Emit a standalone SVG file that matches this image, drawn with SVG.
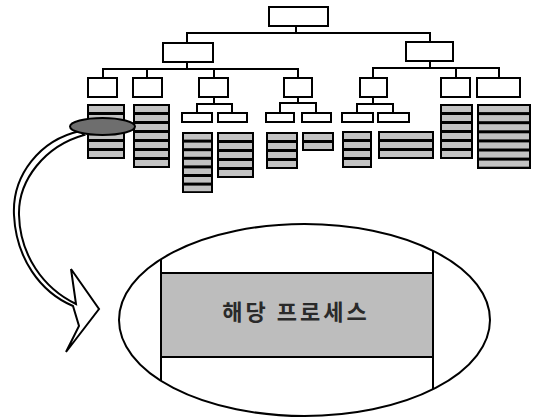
<svg xmlns="http://www.w3.org/2000/svg" width="534" height="419" viewBox="0 0 534 419">
<style>
.box{fill:#fff;stroke:#000;stroke-width:2}
.ln{fill:none;stroke:#000;stroke-width:2}
.col{fill:#000}
.row{fill:#c2c2c2}
.big{fill:#bdbdbd;stroke:#000;stroke-width:2}
.lbl{font-family:"Noto Sans CJK KR","Noto Sans",sans-serif;font-size:22px;font-weight:bold;fill:#2a2a2a}
</style>
<defs>
<clipPath id="ovalclip"><ellipse cx="304.5" cy="320" rx="185.5" ry="96"/></clipPath>
</defs>
<rect width="534" height="419" fill="#fff"/>
<g id="connectors">
<polyline class="ln" points="296,26 296,33"/>
<polyline class="ln" points="187,43 187,33 430,33 430,42"/>
<polyline class="ln" points="187,62 187,69"/>
<polyline class="ln" points="103,78 103,69 298,69 298,78"/>
<polyline class="ln" points="147,69 147,78"/>
<polyline class="ln" points="214,69 214,78"/>
<polyline class="ln" points="430,61 430,68"/>
<polyline class="ln" points="373,78 373,68 499,68 499,78"/>
<polyline class="ln" points="456,68 456,78"/>
<polyline class="ln" points="214,97 214,104"/>
<polyline class="ln" points="197,113 197,104 232,104 232,113"/>
<polyline class="ln" points="298,97 298,103"/>
<polyline class="ln" points="280,113 280,103 316,103 316,113"/>
<polyline class="ln" points="373,97 373,104"/>
<polyline class="ln" points="357,113 357,104 393,104 393,113"/>
</g>
<g id="n-root"><rect class="box" x="269" y="7" width="59" height="19"/></g>
<g id="n-l2a"><rect class="box" x="163" y="43" width="50" height="19"/></g>
<g id="n-l2b"><rect class="box" x="406" y="42" width="47" height="19"/></g>
<g id="n-l3a"><rect class="box" x="88" y="78" width="29" height="19"/></g>
<g id="n-l3b"><rect class="box" x="133" y="78" width="29" height="19"/></g>
<g id="n-l3c"><rect class="box" x="199" y="78" width="29" height="19"/></g>
<g id="n-l3d"><rect class="box" x="284" y="78" width="28" height="19"/></g>
<g id="n-l3e"><rect class="box" x="360" y="78" width="27" height="19"/></g>
<g id="n-l3f"><rect class="box" x="441" y="78" width="29" height="19"/></g>
<g id="n-l3g"><rect class="box" x="477" y="78" width="43" height="19"/></g>
<g id="n-l4a"><rect class="box" x="182" y="113" width="30" height="9"/></g>
<g id="n-l4b"><rect class="box" x="218" y="113" width="29" height="9"/></g>
<g id="n-l4c"><rect class="box" x="266" y="113" width="28" height="9"/></g>
<g id="n-l4d"><rect class="box" x="302" y="113" width="29" height="9"/></g>
<g id="n-l4e"><rect class="box" x="342" y="113" width="31" height="9"/></g>
<g id="n-l4f"><rect class="box" x="378" y="113" width="31" height="9"/></g>
<g id="leaf1">
<rect class="col" x="87" y="104" width="38" height="55"/>
<rect class="row" x="89" y="106" width="34" height="6"/><rect class="row" x="89" y="115" width="34" height="6"/><rect class="row" x="89" y="124" width="34" height="6"/><rect class="row" x="89" y="133" width="34" height="6"/><rect class="row" x="89" y="142" width="34" height="6"/><rect class="row" x="89" y="151" width="34" height="6"/>
</g>
<g id="leaf2">
<rect class="col" x="133" y="104" width="37" height="64"/>
<rect class="row" x="135" y="106" width="33" height="6"/><rect class="row" x="135" y="115" width="33" height="6"/><rect class="row" x="135" y="124" width="33" height="6"/><rect class="row" x="135" y="133" width="33" height="6"/><rect class="row" x="135" y="142" width="33" height="6"/><rect class="row" x="135" y="151" width="33" height="6"/><rect class="row" x="135" y="160" width="33" height="6"/>
</g>
<g id="leafA">
<rect class="col" x="182" y="132" width="31" height="61"/>
<rect class="row" x="184" y="134" width="27" height="5.6"/><rect class="row" x="184" y="142.6" width="27" height="5.6"/><rect class="row" x="184" y="151.2" width="27" height="5.6"/><rect class="row" x="184" y="159.8" width="27" height="5.6"/><rect class="row" x="184" y="168.4" width="27" height="5.6"/><rect class="row" x="184" y="177" width="27" height="5.6"/><rect class="row" x="184" y="185.6" width="27" height="5.6"/>
</g>
<g id="leafB">
<rect class="col" x="217" y="132" width="37" height="46"/>
<rect class="row" x="219" y="134" width="33" height="6"/><rect class="row" x="219" y="143" width="33" height="6"/><rect class="row" x="219" y="152" width="33" height="6"/><rect class="row" x="219" y="161" width="33" height="6"/><rect class="row" x="219" y="170" width="33" height="6"/>
</g>
<g id="leafC">
<rect class="col" x="266" y="132" width="32" height="37"/>
<rect class="row" x="268" y="134" width="28" height="6"/><rect class="row" x="268" y="143" width="28" height="6"/><rect class="row" x="268" y="152" width="28" height="6"/><rect class="row" x="268" y="161" width="28" height="6"/>
</g>
<g id="leafD">
<rect class="col" x="302" y="132" width="32" height="19"/>
<rect class="row" x="304" y="134" width="28" height="6"/><rect class="row" x="304" y="143" width="28" height="6"/>
</g>
<g id="leafE">
<rect class="col" x="342" y="131" width="30" height="37"/>
<rect class="row" x="344" y="133" width="26" height="6"/><rect class="row" x="344" y="142" width="26" height="6"/><rect class="row" x="344" y="151" width="26" height="6"/><rect class="row" x="344" y="160" width="26" height="6"/>
</g>
<g id="leafF">
<rect class="col" x="378" y="131" width="56" height="28"/>
<rect class="row" x="380" y="133" width="52" height="6"/><rect class="row" x="380" y="142" width="52" height="6"/><rect class="row" x="380" y="151" width="52" height="6"/>
</g>
<g id="leafG">
<rect class="col" x="440" y="104" width="33" height="55"/>
<rect class="row" x="442" y="106" width="29" height="6"/><rect class="row" x="442" y="115" width="29" height="6"/><rect class="row" x="442" y="124" width="29" height="6"/><rect class="row" x="442" y="133" width="29" height="6"/><rect class="row" x="442" y="142" width="29" height="6"/><rect class="row" x="442" y="151" width="29" height="6"/>
</g>
<g id="leafH">
<rect class="col" x="477" y="104" width="54" height="65"/>
<rect class="row" x="479" y="106" width="50" height="6.1"/><rect class="row" x="479" y="115.1" width="50" height="6.1"/><rect class="row" x="479" y="124.2" width="50" height="6.1"/><rect class="row" x="479" y="133.3" width="50" height="6.1"/><rect class="row" x="479" y="142.4" width="50" height="6.1"/><rect class="row" x="479" y="151.5" width="50" height="6.1"/><rect class="row" x="479" y="160.6" width="50" height="6.1"/>
</g>
<g id="callout-arrow">
<path d="M80,131 C40,140 12,175 14,215 C16,258 40,292 73,306 L79,326 L66,352 L99,309 L71,269 L76,304 C43,288 20,255 19,215 C18,180 45,146 84,135 Z" fill="#fff" stroke="#000" stroke-width="2" stroke-linejoin="miter"/>
</g>
<g id="highlight">
<ellipse cx="102.5" cy="126.5" rx="32.5" ry="8.5" fill="#6e6e6e" stroke="#000" stroke-width="2"/>
</g>
<g id="magnified">
<ellipse cx="304.5" cy="320" rx="185.5" ry="96" fill="#fff" stroke="#000" stroke-width="2"/>
<g clip-path="url(#ovalclip)">
<line class="ln" x1="161" y1="220" x2="161" y2="420"/>
<line class="ln" x1="433" y1="220" x2="433" y2="420"/>
</g>
<rect class="big" x="161" y="273" width="272" height="84"/>
<text class="lbl" x="296" y="320" text-anchor="middle" xml:space="preserve" letter-spacing="3">해당 프로세스</text>
</g>
</svg>
